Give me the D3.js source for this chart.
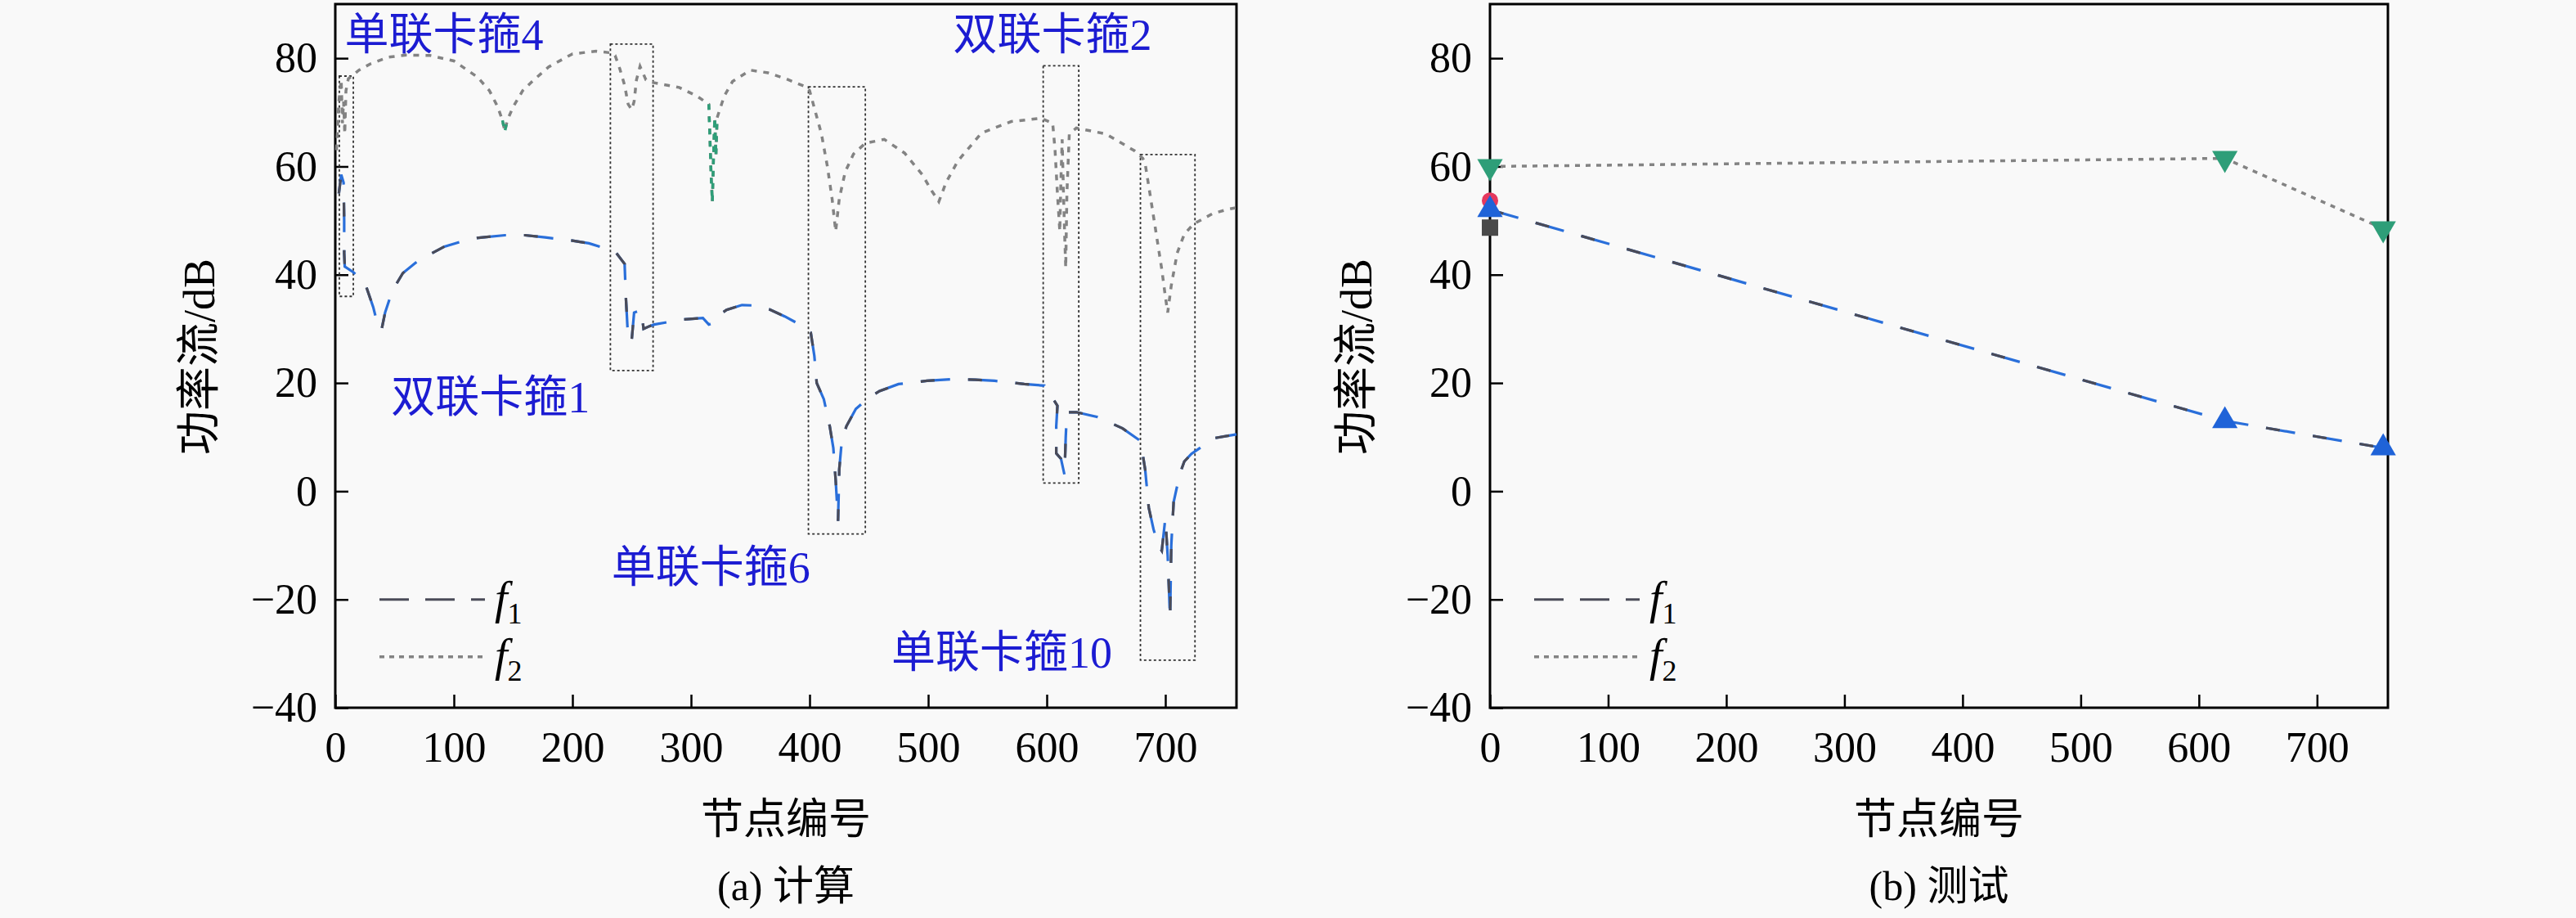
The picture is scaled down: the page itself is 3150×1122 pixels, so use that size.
<!DOCTYPE html>
<html>
<head>
<meta charset="utf-8">
<script src="https://cdn.jsdelivr.net/npm/d3@7"></script>
<style>
  body { margin: 0; background: #f9f9f9; }
  svg { display: block; }
  .tick text { font-family: "Liberation Serif", "Times New Roman", serif; font-size: 52px; fill: #000; }
</style>
</head>
<body>
<svg id="chart" width="3150" height="1122"></svg>
<script>
// ---- data ----
const xTicks = [0, 100, 200, 300, 400, 500, 600, 700];
const yTicks = [-40, -20, 0, 20, 40, 60, 80];

// (a) calculation, f1 : [node, dB]
const calcF1 = [
  [3, 55], [5, 58.5], [7, 57], [7.5, 50], [7.5, 44], [8, 41.5], [15, 40.5], [25, 38.5],
  [32, 34], [36, 30.5], [39, 29.8], [42, 33], [48, 37], [57, 40.3], [70, 42.6], [92, 45.2],
  [115, 46.7], [143, 47.3], [160, 47.3], [177, 46.9], [200, 46.3], [214, 45.8], [230, 44.7],
  [237, 44], [244, 42], [245, 36], [246, 32], [247, 27.8], [250, 28], [252, 33], [258, 33.5],
  [260, 30], [265, 30.5], [269, 30.8], [292, 31.7], [310, 32], [315, 30.8], [318, 31],
  [322, 32.3], [330, 33.5], [343, 34.4], [355, 34.3], [366, 33.6], [379, 32.3], [390, 31],
  [401, 29.3], [404, 25], [406, 20], [412, 17], [417, 12], [420, 8], [422, 2], [424, -5.5],
  [425, 4], [427, 9], [431, 12], [439, 15.2], [450, 17.3], [459, 18.5], [475, 19.8],
  [499, 20.4], [520, 20.7], [540, 20.6], [556, 20.4], [581, 19.8], [598, 19.5], [601, 17.9],
  [605, 17.2], [609, 15.8], [608, 12], [608, 7], [612, 6], [615, 3], [616, 10], [617, 14.6],
  [625, 14.6], [643, 13.7], [664, 11.6], [679, 9.3], [683, 4], [686, -3], [690, -7],
  [694, -10], [697, -11], [700, -5], [702, -12], [704, -23.5], [705, -10], [707, -2],
  [711, 2], [714, 4.3], [716, 5.5], [722, 6.9], [741, 9.8], [760, 10.5]
];

// (a) calculation, f2 : [node, dB]
const calcF2 = [
  [1, 63], [3, 72], [5, 76], [6, 68], [7, 72], [8, 66], [9, 74], [11, 76.2], [20, 77.8],
  [30, 79], [45, 80.2], [60, 80.6], [80, 80.5], [100, 79.5], [120, 76.5], [130, 74],
  [137, 71], [141, 68.5], [143, 66.5], [145, 68.5], [150, 71], [158, 74], [165, 75.5],
  [180, 78.4], [200, 80.8], [220, 81.3], [232, 81], [236, 80.5], [240, 78], [244, 75],
  [247, 71.5], [250, 70.5], [252, 72], [254, 76], [257, 78.5], [260, 77], [262, 76],
  [268, 75.5], [290, 74.6], [305, 73], [315, 71.5], [316, 65], [317, 58], [318, 53.5],
  [319, 62], [320, 69], [321, 62], [322, 69], [328, 73], [335, 75.7], [350, 77.8],
  [365, 77.3], [380, 76.2], [398, 74.6], [400, 74], [405, 70], [410, 66], [415, 60],
  [419, 54], [422, 48], [425, 54], [430, 59], [437, 62.3], [447, 64.3], [463, 65],
  [480, 62.5], [495, 58.5], [503, 55.5], [509, 53.5], [515, 57], [525, 61], [545, 66.2],
  [570, 68.3], [595, 68.9], [605, 68], [607, 63], [609, 55], [611, 48], [612, 58],
  [613, 65], [614, 56], [615, 48], [616, 41.3], [617, 55], [619, 66], [625, 67.1],
  [650, 66], [674, 62.9], [681, 61.5], [683, 60.5], [687, 55], [692, 48], [697, 41],
  [700, 36], [702, 33], [705, 38], [710, 44], [716, 47.5], [724, 49.4], [740, 51.3],
  [753, 52.1], [760, 52.4]
];
const calcF2Green = [[139, 147], [315, 322]];

// highlighted clamp zones: [node0, node1, dB0, dB1]
const clampBoxes = [
  [3.4, 15.2, 36, 76.7],
  [232, 268, 22.3, 82.6],
  [399, 447, -7.9, 74.7],
  [597, 627, 1.5, 78.6],
  [679, 725, -31.2, 62.2]
];
// labels: [text, node, dB]
const clampLabels = [
  ["单联卡箍4", 8, 81.5],
  ["双联卡箍2", 521, 81.5],
  ["双联卡箍1", 47, 14.6],
  ["单联卡箍6", 233, -16.9],
  ["单联卡箍10", 469, -32.6]
];

// (b) test
const testNodes = [0, 622, 756];
const testF1 = [52, 13, 8];
const testF2 = [60, 61.5, 48.5];
const testExtraCircle = [0, 53.7];
const testExtraSquare = [0, 48.7];

// ---- drawing ----
const svg = d3.select("#chart");
const blue = "#2a6fda";
const dark = "#4a4b58";
const gray = "#838383";
const green = "#2e9e78";
const serif = "'Liberation Serif', 'Noto Sans CJK SC', serif";

function drawPanel(left, right, xTitle, caption, yTitleX) {
  const top = 5, bottom = 865;
  const x = d3.scaleLinear().domain([0, 760]).range([left, right]);
  const y = d3.scaleLinear().domain([-40, 90]).range([bottom, top]);
  const g = svg.append("g");

  g.append("g")
    .attr("transform", `translate(0,${bottom})`)
    .call(d3.axisBottom(x).tickValues(xTicks).tickSizeInner(-16).tickSizeOuter(0).tickPadding(29))
    .call(a => a.select(".domain").remove())
    .call(a => a.selectAll(".tick line").attr("stroke", "#000").attr("stroke-width", 2.5));

  g.append("g")
    .attr("transform", `translate(${left},0)`)
    .call(d3.axisLeft(y).tickValues(yTicks).tickSizeInner(-16).tickSizeOuter(0).tickPadding(22))
    .call(a => a.select(".domain").remove())
    .call(a => a.selectAll(".tick line").attr("stroke", "#000").attr("stroke-width", 2.5));

  g.append("rect")
    .attr("x", left).attr("y", top)
    .attr("width", right - left).attr("height", bottom - top)
    .attr("fill", "none").attr("stroke", "#000").attr("stroke-width", 3);

  g.append("text")
    .attr("transform", `translate(${yTitleX},436) rotate(-90)`)
    .attr("text-anchor", "middle")
    .attr("font-family", serif).attr("font-size", 54)
    .text("功率流/dB");

  g.append("text")
    .attr("x", (left + right) / 2).attr("y", 1019)
    .attr("text-anchor", "middle")
    .attr("font-family", serif).attr("font-size", 52)
    .text(xTitle);

  g.append("text")
    .attr("x", (left + right) / 2).attr("y", 1100)
    .attr("text-anchor", "middle")
    .attr("font-family", serif).attr("font-size", 50)
    .text(caption);

  // legend
  const lx0 = left + 54, lx1 = left + 183;
  const legend = [
    { name: "1", yv: -20, dash: "36 20", color: dark, w: 3 },
    { name: "2", yv: -30.6, dash: "6 6", color: gray, w: 3.5 }
  ];
  legend.forEach(l => {
    g.append("line")
      .attr("x1", lx0).attr("x2", lx1)
      .attr("y1", y(l.yv)).attr("y2", y(l.yv))
      .attr("stroke", l.color).attr("stroke-width", l.w)
      .attr("stroke-dasharray", l.dash);
    const t = g.append("text")
      .attr("x", lx1 + 12).attr("y", y(l.yv) + 17)
      .attr("font-family", serif).attr("font-size", 56);
    t.append("tspan").attr("font-style", "italic").text("f");
    t.append("tspan").attr("font-size", 36).attr("dy", 12).text(l.name);
  });

  return { g, x, y };
}

function twoTone(g, line, data, width) {
  g.append("path").datum(data)
    .attr("d", line).attr("fill", "none")
    .attr("stroke", blue).attr("stroke-width", width)
    .attr("stroke-dasharray", "36 22");
  g.append("path").datum(data)
    .attr("d", line).attr("fill", "none")
    .attr("stroke", dark).attr("stroke-width", width)
    .attr("stroke-dasharray", "17 41");
}

// (a)
const pa = drawPanel(410, 1512, "节点编号", "(a) 计算", 262);
const lineA = d3.line().x(d => pa.x(d[0])).y(d => pa.y(d[1]));

pa.g.selectAll(".box").data(clampBoxes).join("rect")
  .attr("class", "box")
  .attr("x", d => pa.x(d[0])).attr("y", d => pa.y(d[3]))
  .attr("width", d => pa.x(d[1]) - pa.x(d[0]))
  .attr("height", d => pa.y(d[2]) - pa.y(d[3]))
  .attr("fill", "none").attr("stroke", "#333")
  .attr("stroke-width", 1.8).attr("stroke-dasharray", "3 3");

pa.g.append("path").datum(calcF2)
  .attr("d", lineA).attr("fill", "none")
  .attr("stroke", gray).attr("stroke-width", 3.5)
  .attr("stroke-dasharray", "7 8");

calcF2Green.forEach(r => {
  pa.g.append("path")
    .datum(calcF2.filter(d => d[0] >= r[0] && d[0] <= r[1]))
    .attr("d", lineA).attr("fill", "none")
    .attr("stroke", green).attr("stroke-width", 3.5)
    .attr("stroke-dasharray", "7 8");
});

twoTone(pa.g, lineA, calcF1, 3.2);

pa.g.selectAll(".lbl").data(clampLabels).join("text")
  .attr("class", "lbl")
  .attr("x", d => pa.x(d[1])).attr("y", d => pa.y(d[2]))
  .attr("font-family", serif).attr("font-size", 54)
  .attr("fill", "#1c1cd2")
  .text(d => d[0]);

// (b)
const pb = drawPanel(1822, 2920, "节点编号", "(b) 测试", 1677);
const lineB = d3.line().x((d, i) => pb.x(testNodes[i])).y(d => pb.y(d));

pb.g.append("path").datum(testF2)
  .attr("d", lineB).attr("fill", "none")
  .attr("stroke", gray).attr("stroke-width", 3.5)
  .attr("stroke-dasharray", "6 7");
twoTone(pb.g, lineB, testF1, 3.2);

const triUp = d3.symbol().type(d3.symbolTriangle).size(420);
pb.g.append("rect")
  .attr("x", pb.x(testExtraSquare[0]) - 10).attr("y", pb.y(testExtraSquare[1]) - 10)
  .attr("width", 20).attr("height", 20).attr("fill", "#4a4a4a");
pb.g.append("circle")
  .attr("cx", pb.x(testExtraCircle[0])).attr("cy", pb.y(testExtraCircle[1]))
  .attr("r", 10).attr("fill", "#e5385e");
pb.g.selectAll(".f1m").data(testF1).join("path")
  .attr("class", "f1m")
  .attr("transform", (d, i) => `translate(${pb.x(testNodes[i])},${pb.y(d)})`)
  .attr("d", triUp).attr("fill", "#1f63d8");
pb.g.selectAll(".f2m").data(testF2).join("path")
  .attr("class", "f2m")
  .attr("transform", (d, i) => `translate(${pb.x(testNodes[i])},${pb.y(d)}) rotate(180)`)
  .attr("d", triUp).attr("fill", green);
</script>
</body>
</html>
